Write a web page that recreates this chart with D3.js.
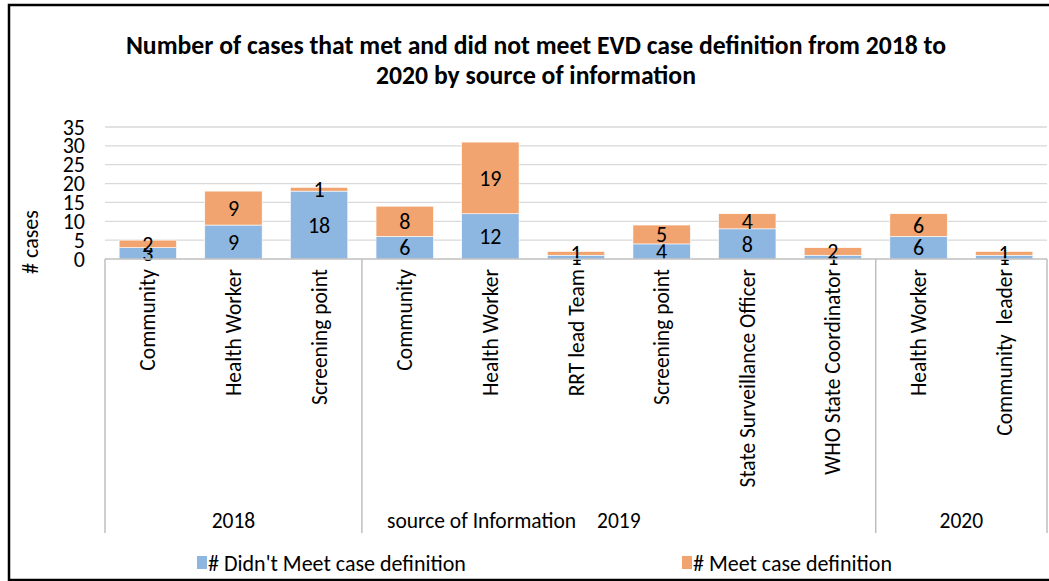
<!DOCTYPE html>
<html>
<head>
<meta charset="utf-8">
<script src="https://cdn.jsdelivr.net/npm/d3@7"></script>
<style>
  body { margin: 0; background: #fff; }
  text { font-family: Carlito, Calibri, "Liberation Sans", sans-serif; }
</style>
</head>
<body>
<div id="chart"></div>
<script>
// data
var categories = ["Community", "Health Worker", "Screening point",
  "Community", "Health Worker", "RRT lead Team", "Screening point",
  "State Surveillance Officer", "WHO State Coordinator",
  "Health Worker", "Community  leader"]
var groups = [
  {name: "2018", start: 0, end: 3},
  {name: "2019", start: 3, end: 9},
  {name: "2020", start: 9, end: 11}
]
var didntMeet = [3, 9, 18, 6, 12, 1, 4, 8, 1, 6, 1]
var meet = [2, 9, 1, 8, 19, 1, 5, 4, 2, 6, 1]
var yTicks = [0, 5, 10, 15, 20, 25, 30, 35]
var seriesNames = ["# Didn't Meet case definition", "# Meet case definition"]
var colors = ["#8db7e1", "#f1a46f"]

var width = 1049, height = 581
var plot = {left: 105, right: 1047, top: 127, bottom: 259}

var svg = d3.select("#chart")
  .append("svg")
    .attr("width", width)
    .attr("height", height)

// outer frame
svg.append("rect")
  .attr("x", 9).attr("y", 5)
  .attr("width", 1060).attr("height", 575)
  .attr("fill", "#fff")
  .attr("stroke", "#000")
  .attr("stroke-width", 2.5)

// title
svg.append("text")
  .attr("x", 536).attr("y", 54)
  .attr("text-anchor", "middle")
  .attr("font-size", 25.7).attr("font-weight", "bold")
  .text("Number of cases that met and did not meet EVD case definition from 2018 to")
svg.append("text")
  .attr("x", 536).attr("y", 84)
  .attr("text-anchor", "middle")
  .attr("font-size", 25.7).attr("font-weight", "bold")
  .text("2020 by source of information")

var x = d3.scaleBand()
  .domain(d3.range(categories.length))
  .range([plot.left, plot.right])
  .paddingInner(0.33)
  .paddingOuter(0.165)

var y = d3.scaleLinear()
  .domain([0, 35])
  .range([plot.bottom, plot.top])

// gridlines
svg.append("g")
  .selectAll("line")
  .data(yTicks.slice(1))
  .enter()
  .append("line")
    .attr("x1", plot.left).attr("x2", plot.right)
    .attr("y1", function(d) { return y(d) })
    .attr("y2", function(d) { return y(d) })
    .attr("stroke", "#d9d9d9")
    .attr("stroke-width", 1.3)

// y axis
var yAxis = svg.append("g")
  .attr("transform", "translate(" + (plot.left - 20) + ",0)")
  .call(d3.axisLeft(y).tickValues(yTicks).tickSize(0).tickPadding(0))
yAxis.select(".domain").remove()
yAxis.selectAll("text")
  .attr("font-size", 22)
  .attr("fill", "#000")
  .attr("font-family", "Carlito, Calibri, 'Liberation Sans', sans-serif")

svg.append("text")
  .attr("transform", "translate(38,242)rotate(-90)")
  .attr("text-anchor", "middle")
  .attr("font-size", 22)
  .text("# cases")

// stacked bars
var stackData = categories.map(function(c, i) {
  return {i: i, a: didntMeet[i], b: meet[i]}
})
var stack = d3.stack().keys(["a", "b"])(stackData)

var layers = svg.append("g")
  .selectAll("g")
  .data(stack)
  .enter()
  .append("g")
    .attr("fill", function(d, k) { return colors[k] })

layers.selectAll("rect")
  .data(function(d) { return d })
  .enter()
  .append("rect")
    .attr("x", function(d) { return x(d.data.i) })
    .attr("width", x.bandwidth())
    .attr("y", function(d) { return y(d[1]) })
    .attr("height", function(d) { return y(d[0]) - y(d[1]) })
    .attr("stroke", "#fff")
    .attr("stroke-width", 0.6)

layers.selectAll("text")
  .data(function(d) { return d })
  .enter()
  .append("text")
    .attr("x", function(d) { return x(d.data.i) + x.bandwidth() / 2 })
    .attr("y", function(d) { return (y(d[0]) + y(d[1])) / 2 })
    .attr("dy", "0.35em")
    .attr("text-anchor", "middle")
    .attr("font-size", 22)
    .attr("fill", "#000")
    .text(function(d) { return d[1] - d[0] })

// category axis
svg.append("line")
  .attr("x1", plot.left).attr("x2", plot.right)
  .attr("y1", plot.bottom).attr("y2", plot.bottom)
  .attr("stroke", "#bfbfbf").attr("stroke-width", 1.5)

var bounds = [0, 3, 9, 11]
svg.append("g")
  .selectAll("line")
  .data(bounds)
  .enter()
  .append("line")
    .attr("x1", function(d) { return plot.left + d * x.step() })
    .attr("x2", function(d) { return plot.left + d * x.step() })
    .attr("y1", plot.bottom).attr("y2", 533)
    .attr("stroke", "#bfbfbf").attr("stroke-width", 1.5)

svg.append("g")
  .selectAll("text")
  .data(categories)
  .enter()
  .append("text")
    .attr("transform", function(d, i) {
      return "translate(" + (x(i) + x.bandwidth() / 2) + ",269)rotate(-90)"
    })
    .attr("dy", "0.35em")
    .attr("text-anchor", "end")
    .attr("font-size", 21.5)
    .style("white-space", "pre")
    .text(function(d) { return d })

svg.append("g")
  .selectAll("text")
  .data(groups)
  .enter()
  .append("text")
    .attr("x", function(d) { return plot.left + (d.start + d.end) / 2 * x.step() })
    .attr("y", 528)
    .attr("text-anchor", "middle")
    .attr("font-size", 21.5)
    .text(function(d) { return d.name })

svg.append("text")
  .attr("x", 387).attr("y", 528)
  .attr("font-size", 21.5)
  .text("source of Information")

// legend
var legendX = [197, 682]
var legend = svg.append("g")
  .selectAll("g")
  .data(seriesNames)
  .enter()
  .append("g")
    .attr("transform", function(d, i) { return "translate(" + legendX[i] + ",556)" })
legend.append("rect")
  .attr("width", 10).attr("height", 13)
  .attr("fill", function(d, i) { return colors[i] })
legend.append("text")
  .attr("x", 11).attr("y", 7)
  .attr("dy", "0.35em")
  .attr("font-size", 22)
  .text(function(d) { return d })
</script>
</body>
</html>
